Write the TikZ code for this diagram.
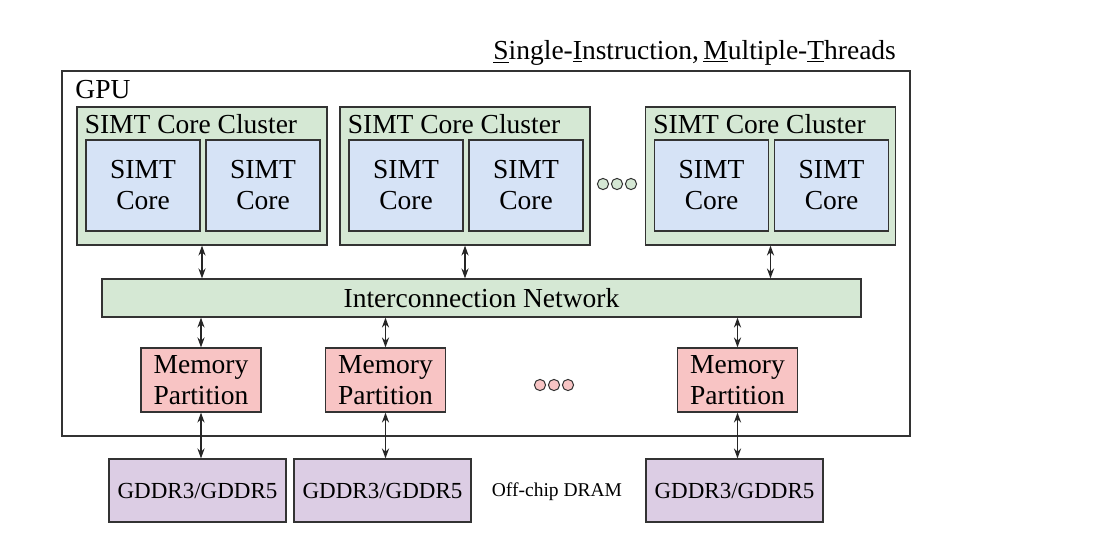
\documentclass[tikz,border=0pt]{standalone}
\usepackage{fontspec}
\setmainfont{Liberation Serif}
\usetikzlibrary{arrows.meta}

\definecolor{clgreen}{HTML}{D5E8D4}
\definecolor{coreblue}{HTML}{D6E3F6}
\definecolor{mppink}{HTML}{F8C4C4}
\definecolor{drampurple}{HTML}{DCCDE4}

\tikzset{
  box/.style={draw=black!80, line width=0.6pt, inner sep=0pt, align=center,
    font=\fontsize{13.75pt}{15.5pt}\selectfont},
  cluster/.style={box, fill=clgreen, minimum width=125pt, minimum height=69pt},
  core/.style={box, fill=coreblue, minimum width=57pt, minimum height=45.5pt},
  mempart/.style={box, fill=mppink, minimum width=60pt, minimum height=32pt},
  dram/.style={box, fill=drampurple, minimum width=88.5pt, minimum height=31.5pt,
    font=\fontsize{11.5pt}{13pt}\selectfont},
  link/.style={{Stealth[length=5pt,width=3.6pt]}-{Stealth[length=5pt,width=3.6pt]},
    line width=0.6pt, black!85},
  dot/.style={draw=black!80, line width=0.5pt}
}

\begin{document}
\begin{tikzpicture}[x=1pt,y=-1pt]
\useasboundingbox (0,0) rectangle (546.5,277);
%\draw (0,0) rectangle (546.5,277);

\draw (451.5,29.5) node[anchor=base east, font=\fontsize{13.75pt}{15.5pt}\selectfont] (title)
  {\underline{S}ingle-\underline{I}nstruction,\,\underline{M}ultiple-\underline{T}hreads};

\draw (243,126.75) node[box, minimum width=424pt, minimum height=182.5pt] (gpu) {};
\draw (37.5,45) node[anchor=west, font=\fontsize{13.75pt}{15.5pt}\selectfont, inner sep=0pt] (gpulbl) {GPU};

% core clusters
\foreach \n/\x in {1/101, 2/232.5, 3/385.25} {
  \draw (\x,88) node[cluster] (cl\n) {};
  \draw ([xshift=4pt,yshift=-4pt]cl\n.north west) node[anchor=north west, inner sep=0pt,
    font=\fontsize{13.75pt}{15.5pt}\selectfont] (cl\n t) {SIMT Core Cluster};
  \draw ([xshift=-29.5pt,yshift=-4.75pt]cl\n.center) node[core] (cl\n a) {SIMT\\Core};
  \draw ([xshift=30.5pt,yshift=-4.75pt]cl\n.center) node[core] (cl\n b) {SIMT\\Core};
}
\foreach \x in {301.5,308.5,315.5}
  \draw[dot, fill=clgreen] (\x,92) circle (2.8pt);

\draw (240.75,149) node[box, fill=clgreen, minimum width=379.5pt, minimum height=19pt] (net)
  {Interconnection Network};

\foreach \n in {1,2,3}
  \draw[link] (cl\n.south) -- (cl\n.south |- net.north);

% memory partitions and dram
\foreach \n/\x/\d in {1/100.5/98.75, 2/192.75/191.25, 3/368.75/367.25} {
  \draw (\x,190) node[mempart] (mp\n) {Memory\\Partition};
  \draw (\d,245.25) node[dram] (dram\n) {GDDR3/GDDR5};
  \draw[link] (mp\n.north |- net.south) -- (mp\n.north);
  \draw[link] (mp\n.south) -- (mp\n.south |- dram\n.north);
}
\foreach \x in {270,277,284}
  \draw[dot, fill=mppink] (\x,192.5) circle (2.8pt);

\draw (278.5,246) node[font=\fontsize{9.75pt}{11pt}\selectfont] (offchip) {Off-chip DRAM};
\end{tikzpicture}
\end{document}
